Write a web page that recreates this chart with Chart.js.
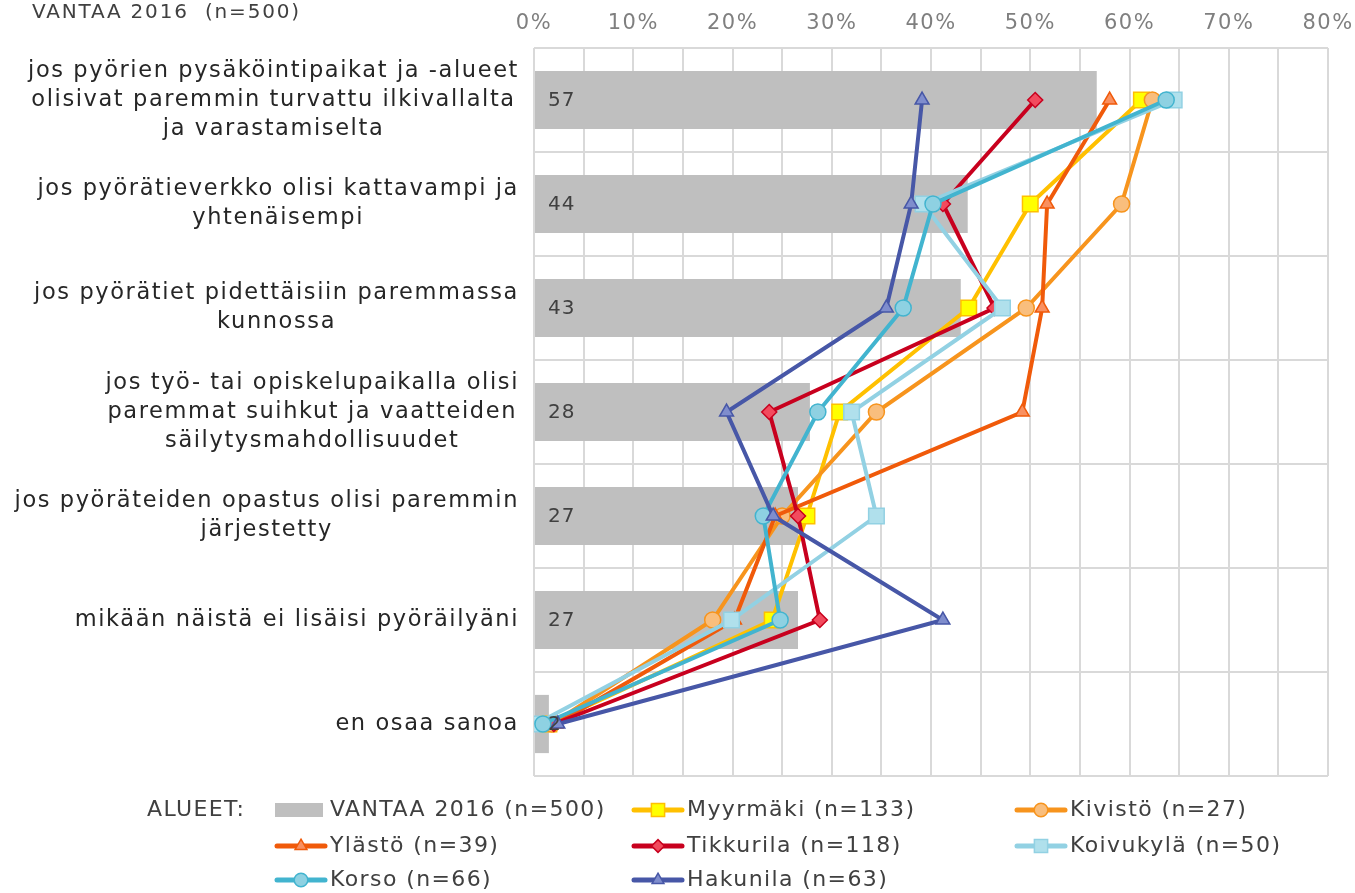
<!DOCTYPE html>
<html>
<head>
<meta charset="utf-8">
<script src="https://cdn.jsdelivr.net/npm/chart.js@4.4.0/dist/chart.umd.min.js"></script>
<style>
html, body { margin: 0; padding: 0; background: #fff; }
#wrap { width: 1355px; height: 893px; }
</style>
</head>
<body>
<div id="wrap"><canvas id="myChart" width="1355" height="893"></canvas></div>
<script>
// Category labels, one string per printed line
let categories = [
  ["jos pyörien pysäköintipaikat ja -alueet", "olisivat paremmin turvattu ilkivallalta", "ja varastamiselta"],
  ["jos pyörätieverkko olisi kattavampi ja", "yhtenäisempi"],
  ["jos pyörätiet pidettäisiin paremmassa", "kunnossa"],
  ["jos työ- tai opiskelupaikalla olisi", "paremmat suihkut ja vaatteiden", "säilytysmahdollisuudet"],
  ["jos pyöräteiden opastus olisi paremmin", "järjestetty"],
  ["mikään näistä ei lisäisi pyöräilyäni"],
  ["en osaa sanoa"]
];

// Values in percent
let vantaa    = [56.7, 43.7, 43.0, 27.8, 26.6, 26.6, 1.5];
let myyrmaki  = [61.2, 50.0, 43.8, 30.8, 27.5, 24.0, 1.5];
let kivisto   = [62.3, 59.2, 49.6, 34.5, 25.0, 18.0, 1.8];
let ylasto    = [58.0, 51.7, 51.2, 49.2, 24.3, 20.2, 2.2];
let tikkurila = [50.5, 41.2, 46.4, 23.7, 26.6, 28.8, 2.0];
let koivukyla = [64.5, 39.2, 47.2, 32.0, 34.5, 19.9, 0.2];
let korso     = [63.7, 40.2, 37.2, 28.6, 23.1, 24.8, 0.9];
let hakunila  = [39.1, 38.0, 35.5, 19.4, 24.1, 41.2, 2.4];

let seriesNames = ["VANTAA 2016 (n=500)", "Myyrmäki (n=133)", "Kivistö (n=27)", "Ylästö (n=39)",
  "Tikkurila (n=118)", "Koivukylä (n=50)", "Korso (n=66)", "Hakunila (n=63)"];
let xTickMax = 80;
let legendTitle = "ALUEET:";
let chartTitle = "VANTAA 2016  (n=500)";

const FONT = "'DejaVu Sans', Verdana, sans-serif";

function lineSet(name, data, color, fill, style, radius, order) {
  return {
    type: 'line',
    label: name,
    data: data,
    borderColor: color,
    borderWidth: 4,
    pointStyle: style,
    pointRadius: radius,
    pointHoverRadius: radius,
    pointBackgroundColor: fill,
    pointBorderColor: color,
    pointBorderWidth: 1.5,
    fill: false,
    tension: 0,
    order: order
  };
}

let datasets = [
  { type: 'bar', label: seriesNames[0], data: vantaa, backgroundColor: '#bfbfbf',
    categoryPercentage: 1, barPercentage: 0.56, order: 20 },
  lineSet(seriesNames[1], myyrmaki, '#ffc000', '#ffff00', 'rect', 11, 7),
  lineSet(seriesNames[2], kivisto, '#f7941d', '#f9be7d', 'circle', 8, 6),
  lineSet(seriesNames[3], ylasto, '#f05a0a', '#f99060', 'triangle', 8, 5),
  lineSet(seriesNames[4], tikkurila, '#c8001e', '#f24b5e', 'rectRot', 7.5, 4),
  lineSet(seriesNames[5], koivukyla, '#92d1e3', '#b0e0ec', 'rect', 11, 3),
  lineSet(seriesNames[6], korso, '#42b4cf', '#8ed1e2', 'circle', 8, 2),
  lineSet(seriesNames[7], hakunila, '#4757a7', '#7f8dcd', 'triangle', 8, 1)
];

/**
 * Draws category labels, bar value labels, title and the legend
 */
const textPlugin = {
  id: 'textPlugin',
  beforeDraw(chart) {
    // Excel-like wide text for the axis tick labels
    chart.ctx.letterSpacing = '1.5px';
  },
  afterDatasetsDraw(chart) {
    let ctx = chart.ctx;
    let y = chart.scales.y;
    let x = chart.scales.x;
    ctx.save();
    ctx.font = '20px ' + FONT;
    ctx.letterSpacing = '1px';
    ctx.fillStyle = '#404040';
    ctx.textAlign = 'left';
    ctx.textBaseline = 'middle';
    for (let i = 0; i < vantaa.length; i++) {
      ctx.fillText(String(Math.round(vantaa[i])), x.getPixelForValue(0) + 14, y.getPixelForValue(i) + 1);
    }
    ctx.restore();
  },
  afterDraw(chart) {
    let ctx = chart.ctx;
    let y = chart.scales.y;
    ctx.save();
    ctx.font = '22.5px ' + FONT;
    ctx.letterSpacing = '1.6px';
    ctx.fillStyle = '#262626';
    ctx.textBaseline = 'middle';
    ctx.textAlign = 'center';
    let lh = 29;
    for (let i = 0; i < categories.length; i++) {
      let lines = categories[i];
      let maxW = Math.max(...lines.map(l => ctx.measureText(l).width));
      let cx = 519 - maxW / 2;
      let cy = y.getPixelForValue(i);
      for (let j = 0; j < lines.length; j++) {
        ctx.fillText(lines[j], cx, cy + (j - (lines.length - 1) / 2) * lh);
      }
    }

    // title
    ctx.font = '20px ' + FONT;
    ctx.letterSpacing = '1.8px';
    ctx.textAlign = 'left';
    ctx.textBaseline = 'alphabetic';
    ctx.fillStyle = '#404040';
    ctx.fillText(chartTitle, 32, 18);

    // legend
    ctx.font = '22px ' + FONT;
    ctx.letterSpacing = '1.4px';
    ctx.textBaseline = 'middle';
    ctx.fillText(legendTitle, 147, 810);
    let cols = [275, 632, 1015];
    let rows = [810, 846, 880];
    for (let i = 0; i < datasets.length; i++) {
      let ds = datasets[i];
      let lx = cols[i % 3];
      let ly = rows[Math.floor(i / 3)];
      if (ds.type === 'bar') {
        ctx.fillStyle = ds.backgroundColor;
        ctx.fillRect(lx, ly - 7, 48, 14);
      } else {
        ctx.strokeStyle = ds.borderColor;
        ctx.lineWidth = 5;
        ctx.lineCap = 'round';
        ctx.beginPath();
        ctx.moveTo(lx + 2, ly);
        ctx.lineTo(lx + 50, ly);
        ctx.stroke();
        ctx.fillStyle = ds.pointBackgroundColor;
        ctx.strokeStyle = ds.pointBorderColor;
        ctx.lineWidth = 1.5;
        Chart.helpers.drawPoint(ctx, { pointStyle: ds.pointStyle, radius: ds.pointRadius * 0.85, rotation: 0, borderWidth: 1.5 }, lx + 26, ly);
      }
      ctx.fillStyle = '#404040';
      ctx.fillText(ds.label, lx + 55, ly);
    }
    ctx.restore();
  }
};

let ctx = document.getElementById('myChart').getContext('2d');
window.myChart = new Chart(ctx, {
  type: 'bar',
  data: {
    labels: categories.map(c => c.join(' ')),
    datasets: datasets
  },
  options: {
    indexAxis: 'y',
    responsive: false,
    animation: false,
    layout: { padding: { left: 0, right: 27, top: 0, bottom: 117 } },
    plugins: {
      legend: { display: false },
      tooltip: { enabled: false }
    },
    scales: {
      x: {
        position: 'top',
        min: 0,
        max: xTickMax,
        ticks: {
          stepSize: 5,
          autoSkip: false,
          maxRotation: 0,
          color: '#7f7f7f',
          padding: 12,
          font: { family: FONT, size: 21 },
          callback: v => (v % 10 === 0 ? v + '%' : '')
        },
        grid: { color: '#d9d9d9', lineWidth: 2, drawTicks: false },
        border: { display: false },
        afterFit: s => { s.height = 48; s.paddingLeft = 0; s.paddingRight = 0; }
      },
      y: {
        ticks: { display: false },
        grid: { color: '#d9d9d9', lineWidth: 2, offset: true, drawTicks: false },
        border: { display: false },
        afterFit: s => { s.width = 534; }
      }
    }
  },
  plugins: [textPlugin]
});
</script>
</body>
</html>
